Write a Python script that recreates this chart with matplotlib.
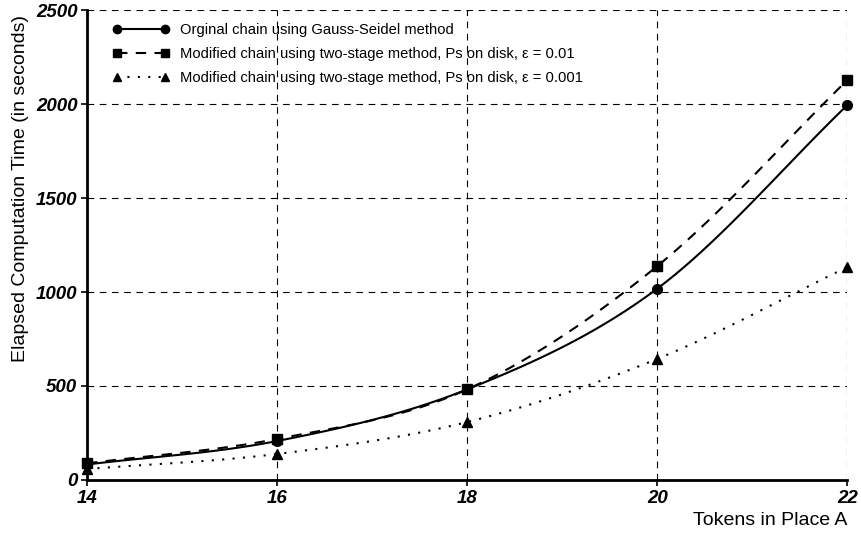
import numpy as np
import matplotlib.pyplot as plt
from matplotlib.lines import Line2D

plt.rcParams['font.family'] = ['Liberation Sans', 'DejaVu Sans']

tokens = [14, 16, 18, 20, 22]
gauss_seidel = [82, 207, 482, 1018, 1995]
two_stage_01 = [88, 218, 482, 1138, 2128]
two_stage_001 = [58, 138, 308, 644, 1133]

labels = [
    'Orginal chain using Gauss-Seidel method',
    'Modified chain using two-stage method, Ps on disk, \u03b5 = 0.01',
    'Modified chain using two-stage method, Ps on disk, \u03b5 = 0.001',
]
x_ticks = [14, 16, 18, 20, 22]
y_ticks = [0, 500, 1000, 1500, 2000, 2500]


def smooth(xs, ys, n=30):
    # catmull-rom curve through the data points, only for drawing the line
    xs = np.asarray(xs, float)
    ys = np.asarray(ys, float)
    px = np.concatenate([[2 * xs[0] - xs[1]], xs, [2 * xs[-1] - xs[-2]]])
    py = np.concatenate([[2 * ys[0] - ys[1]], ys, [2 * ys[-1] - ys[-2]]])
    ox, oy = [], []
    for i in range(1, len(px) - 2):
        t = np.linspace(0, 1, n, endpoint=False)
        for arr, out in ((px, ox), (py, oy)):
            p0, p1, p2, p3 = arr[i - 1], arr[i], arr[i + 1], arr[i + 2]
            out.extend(0.5 * (2 * p1 + (-p0 + p2) * t
                              + (2 * p0 - 5 * p1 + 4 * p2 - p3) * t ** 2
                              + (-p0 + 3 * p1 - 3 * p2 + p3) * t ** 3))
    ox.append(xs[-1])
    oy.append(ys[-1])
    return ox, oy


fig = plt.figure(figsize=(8.62, 5.35), dpi=100)
ax = fig.add_axes([0.101, 0.103, 0.882, 0.878])

styles = [('-', 'o', (None, None)), ('--', 's', (5, 4)), (':', '^', (1, 4))]
series = [gauss_seidel, two_stage_01, two_stage_001]
handles = []
for ys, (ls, mk, dash), lab in zip(series, styles, labels):
    sx, sy = smooth(tokens, ys)
    line, = ax.plot(sx, sy, color='black', lw=1.5, ls=ls, clip_on=False)
    if dash[0] is not None:
        line.set_dashes(dash)
    ax.plot(tokens, ys, ls='none', marker=mk, ms=7, color='black', clip_on=False)
    h = Line2D([0], [0], color='black', lw=1.5, ls=ls, marker=mk, ms=6)
    if dash[0] is not None:
        h.set_dashes(dash)
    handles.append(h)

ax.set_xlim(14, 22)
ax.set_ylim(0, 2500)
ax.set_xticks(x_ticks)
ax.set_yticks(y_ticks)
ax.grid(True, color='black', ls=(0, (6, 5)), lw=0.8)
ax.spines['top'].set_visible(False)
ax.spines['right'].set_visible(False)
ax.spines['left'].set_linewidth(2)
ax.spines['bottom'].set_linewidth(2)
ax.tick_params(direction='out', length=4, width=1.2, pad=3)
for lab in ax.get_xticklabels() + ax.get_yticklabels():
    lab.set_fontweight('bold')
    lab.set_fontstyle('italic')
    lab.set_fontsize(13.5)

ax.set_ylabel('Elapsed Computation Time (in seconds)', fontsize=14)
ax.yaxis.set_label_coords(-0.076, 0.62)
ax.set_xlabel('Tokens in Place A', fontsize=14, loc='right', labelpad=4)

ax.legend(handles, labels, loc='upper left', bbox_to_anchor=(0.016, 1.0),
          frameon=False, fontsize=10.6, numpoints=2, handlelength=3.85,
          handletextpad=0.75, labelspacing=0.66)

fig.savefig('out.png', dpi=100)
